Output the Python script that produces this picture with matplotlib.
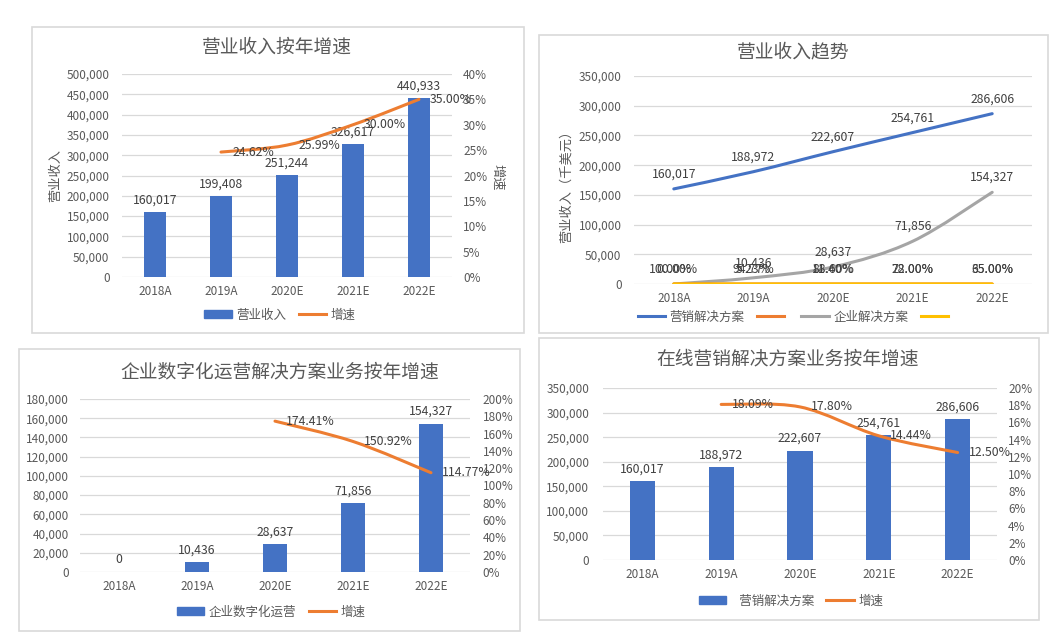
import numpy as np
import matplotlib
matplotlib.use('Agg')
import matplotlib.pyplot as plt
from matplotlib.path import Path
from matplotlib.patches import PathPatch, Rectangle, Patch
from matplotlib.lines import Line2D
from matplotlib.ticker import FuncFormatter

plt.rcParams['font.family'] = ['Noto Sans CJK SC', 'DejaVu Sans']

years = ['2018A', '2019A', '2020E', '2021E', '2022E']
revenue = [160017, 199408, 251244, 326617, 440933]
revenue_growth = [None, 24.62, 25.99, 30.00, 35.00]
marketing = [160017, 188972, 222607, 254761, 286606]
enterprise = [0, 10436, 28637, 71856, 154327]
marketing_share = [100.00, 94.77, 88.60, 78.00, 65.00]
enterprise_share = [0.00, 5.23, 11.40, 22.00, 35.00]
enterprise_growth = [None, None, 174.41, 150.92, 114.77]
marketing_growth = [None, 18.09, 17.80, 14.44, 12.50]

BLUE = '#4472C4'
ORANGE = '#ED7D31'
GREY = '#A5A5A5'
YELLOW = '#FFC000'
TXT = '#595959'
LBL = '#404040'

W, H = 1052, 639
fig = plt.figure(figsize=(W / 100, H / 100), dpi=100)


def fx(x):
    return x / W


def fy(y):
    return 1 - y / H


def box(l, t, r, b):
    return [l / W, 1 - b / H, (r - l) / W, (b - t) / H]


def frame(l, t, r, b):
    fig.patches.append(Rectangle((fx(l), fy(b)), (r - l) / W, (b - t) / H,
                                 transform=fig.transFigure, fill=False,
                                 edgecolor='#D9D9D9', lw=1.2))


def setup(ax, ymax, step, pad):
    ax.set_xlim(-0.5, 4.5)
    ax.set_ylim(0, ymax)
    ax.set_yticks(np.arange(0, ymax + 1, step))
    ax.yaxis.set_major_formatter(FuncFormatter(lambda v, p: f'{v:,.0f}'))
    ax.set_xticks(range(len(years)))
    ax.set_xticklabels(years)
    ax.grid(axis='y', color='#D9D9D9', lw=0.9)
    ax.set_axisbelow(True)
    for s in ax.spines.values():
        s.set_visible(False)
    ax.tick_params(axis='y', length=0, colors=TXT, labelsize=8.5, pad=pad)
    ax.tick_params(axis='x', length=0, colors=TXT, labelsize=8.5, pad=6)


def right_axis(ax, ymax, step, pad):
    t = ax.twinx()
    t.set_ylim(0, ymax)
    t.set_yticks(np.arange(0, ymax + 0.001, step))
    t.yaxis.set_major_formatter(FuncFormatter(lambda v, p: f'{v:.0f}%'))
    for s in t.spines.values():
        s.set_visible(False)
    t.tick_params(length=0, colors=TXT, labelsize=8.5, pad=pad)
    return t


def smooth(ax, xs, ys, color, lw=2.2):
    # Excel style smoothed line through the data points (Bezier segments)
    pts = np.array(list(zip(xs, ys)), float)
    n = len(pts)
    verts = [pts[0]]
    codes = [Path.MOVETO]
    for i in range(n - 1):
        p0 = pts[max(i - 1, 0)]
        p1 = pts[i]
        p2 = pts[i + 1]
        p3 = pts[min(i + 2, n - 1)]
        verts += [p1 + (p2 - p0) / 6, p2 - (p3 - p1) / 6, p2]
        codes += [Path.CURVE4] * 3
    ax.add_patch(PathPatch(Path(verts, codes), fill=False, edgecolor=color,
                           lw=lw, capstyle='round', joinstyle='round', zorder=3))


def growth_line(ax, vals, offset=8):
    xs = [i for i, v in enumerate(vals) if v is not None]
    ys = [v for v in vals if v is not None]
    smooth(ax, xs, ys, ORANGE)
    for x, y in zip(xs, ys):
        ax.annotate(f'{y:.2f}%', (x, y), xytext=(offset, 0), textcoords='offset points',
                    ha='left', va='center', fontsize=8.8, color=LBL, zorder=5)


def bars(ax, vals):
    ax.bar(range(len(vals)), vals, width=0.32, color=BLUE, zorder=2)
    for i, v in enumerate(vals):
        ax.annotate(f'{v:,}', (i, v), xytext=(0, 4), textcoords='offset points',
                    ha='center', va='bottom', fontsize=8.8, color=LBL)


def legend(handles, labels, cx, cy, **kw):
    fig.legend(handles, labels, loc='center', bbox_to_anchor=(fx(cx), fy(cy)),
               ncol=len(handles), frameon=False, fontsize=9, labelcolor=TXT,
               handlelength=2.2, handleheight=0.6, handletextpad=0.35,
               columnspacing=1.0, **kw)


# panel 1: 营业收入按年增速
frame(32, 27, 524, 333)
ax1 = fig.add_axes(box(122, 74, 452, 277))
setup(ax1, 500000, 50000, 9)
bars(ax1, revenue)
t1 = right_axis(ax1, 40, 5, 8)
growth_line(t1, revenue_growth)
fig.text(fx(277), fy(47), '营业收入按年增速', ha='center', va='center', fontsize=13.5, color=TXT)
fig.text(fx(56), fy(175), '营业收入', ha='center', va='center', rotation=90, fontsize=9.5, color=TXT)
fig.text(fx(497), fy(177), '增速', ha='center', va='center', rotation=270, fontsize=9.5, color=TXT)
legend([Patch(color=BLUE), Line2D([], [], color=ORANGE, lw=2.2)], ['营业收入', '增速'], 280, 315)

# panel 2: 营业收入趋势
frame(539, 35, 1048, 333)
ax2 = fig.add_axes(box(634, 76, 1032, 284))
setup(ax2, 350000, 50000, 9)
x = range(len(years))
smooth(ax2, x, marketing, BLUE)
smooth(ax2, x, enterprise, GREY)
smooth(ax2, x, marketing_share, ORANGE)
smooth(ax2, x, enterprise_share, YELLOW)
for i in x:
    ax2.annotate(f'{marketing[i]:,}', (i, marketing[i]), xytext=(0, 6), textcoords='offset points',
                 ha='center', va='bottom', fontsize=8.8, color=LBL)
    if i > 0:
        ax2.annotate(f'{enterprise[i]:,}', (i, enterprise[i]), xytext=(0, 6), textcoords='offset points',
                     ha='center', va='bottom', fontsize=8.8, color=LBL)
    for v in (marketing_share[i], enterprise_share[i]):
        ax2.annotate(f'{v:.2f}%', (i, v), xytext=(0, 6), textcoords='offset points',
                     ha='center', va='bottom', fontsize=8.8, color=LBL)
fig.text(fx(793), fy(52), '营业收入趋势', ha='center', va='center', fontsize=13.5, color=TXT)
fig.text(fx(566), fy(183), '营业收入（千美元）', ha='center', va='center', rotation=90, fontsize=9.5, color=TXT)
legend([Line2D([], [], color=c, lw=2.2) for c in (BLUE, ORANGE, GREY, YELLOW)],
       ['营销解决方案', '', '企业解决方案', ''], 795, 317)

# panel 3: 企业数字化运营解决方案业务按年增速
frame(19, 349, 520, 631)
ax3 = fig.add_axes(box(80, 399, 470, 572))
setup(ax3, 180000, 20000, 8)
bars(ax3, enterprise)
t3 = right_axis(ax3, 200, 20, 9)
growth_line(t3, enterprise_growth)
fig.text(fx(280), fy(372), '企业数字化运营解决方案业务按年增速', ha='center', va='center', fontsize=13.5, color=TXT)
legend([Patch(color=BLUE), Line2D([], [], color=ORANGE, lw=2.2)], ['企业数字化运营', '增速'], 271, 612)

# panel 4: 在线营销解决方案业务按年增速
frame(539, 338, 1039, 620)
ax4 = fig.add_axes(box(603, 388, 997, 560))
setup(ax4, 350000, 50000, 10)
bars(ax4, marketing)
t4 = right_axis(ax4, 20, 2, 8)
growth_line(t4, marketing_growth)
fig.text(fx(788), fy(359), '在线营销解决方案业务按年增速', ha='center', va='center', fontsize=13.5, color=TXT)
legend([Patch(color=BLUE), Line2D([], [], color=ORANGE, lw=2.2)], ['   营销解决方案', '增速'], 791, 601)

fig.savefig('out.png', dpi=100, facecolor='white')
